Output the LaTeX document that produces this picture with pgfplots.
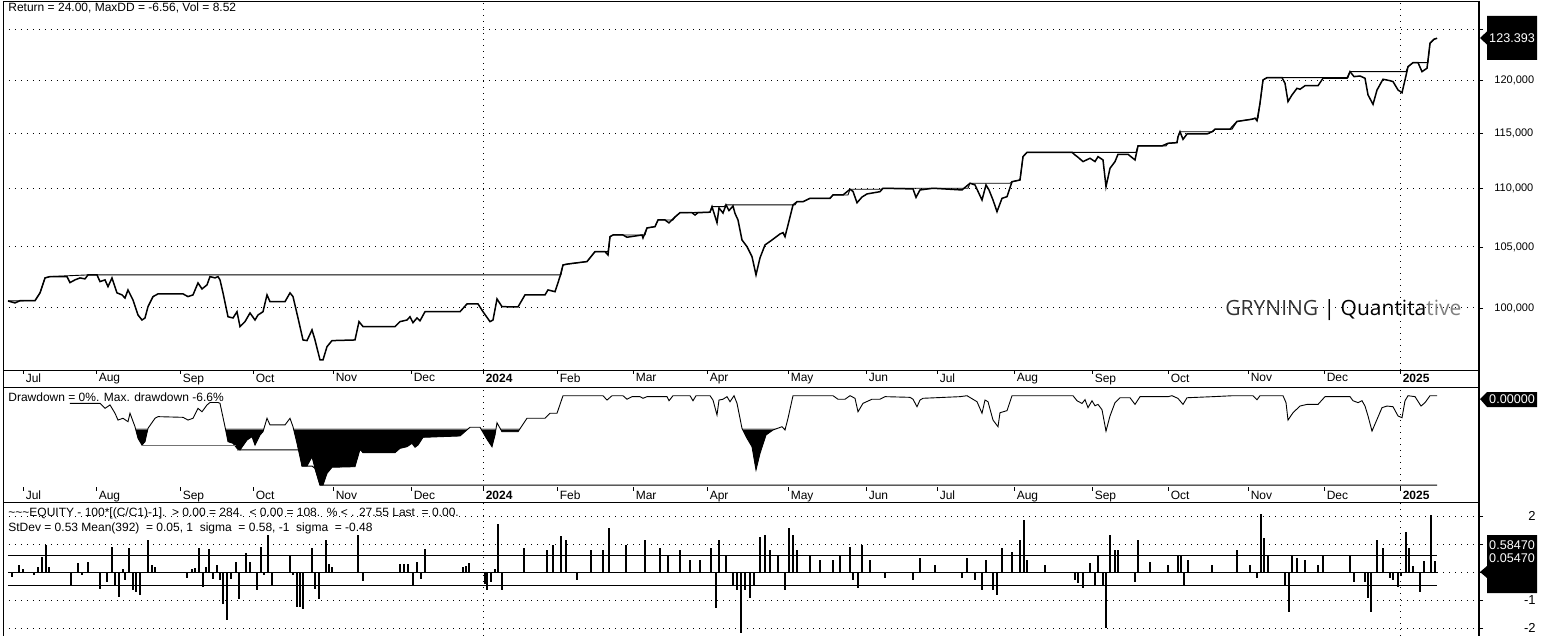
\documentclass[border=0pt]{standalone}
\usepackage{fontspec}
\setmainfont{Liberation Sans}
\newfontfamily\gryfont{Open Sans}
\usepackage{pgfplots}
\usepackage{pgfplotstable}
\pgfplotsset{compat=1.18}

\pgfplotstableread{
x y
70 -0.56
100 -0.56
105 -0.93
110 -0.68
115 -1.29
118 -1.79
123 -1.66
128 -1.91
130 -1.29
135 -2.28
138 -3.13
142 -3.63
145 -3.38
148 -2.40
155 -1.66
158 -1.54
183 -1.59
188 -1.79
193 -1.66
198 -0.93
202 -1.18
207 -0.68
210 -0.50
218 -0.50
220 -0.56
225 -2.28
228 -3.38
233 -3.50
237 -3.87
240 -3.99
247 -3.26
252 -3.01
255 -3.63
260 -2.89
263 -2.65
267 -1.66
270 -2.15
285 -2.15
290 -1.66
293 -2.28
297 -3.50
302 -5.17
307 -5.17
312 -4.49
315 -5.34
320 -6.57
323 -6.57
327 -5.71
332 -5.26
355 -5.22
360 -3.94
363 -4.19
395 -4.19
400 -3.87
407 -3.75
412 -3.50
415 -3.79
418 -3.63
423 -3.06
460 -2.96
470 -2.32
480 -2.32
487 -3.2
492 -3.75
495 -2.89
497 -1.99
502 -2.65
518 -2.65
527 -1.66
545 -1.66
550 -1.29
557 -1.29
563 0
603 0
607 -0.32
612 0
623 0
627 -0.26
632 -0.07
640 -0.07
643 -0.19
647 -0.07
667 -0.07
669 -0.37
673 0
690 0
693 -0.37
696 0
710 0
713 -0.32
717 -1.42
719 -0.32
723 -0.26
727 -0.07
730 -0.44
734 0
737 -0.56
742 -2.40
747 -3.13
752 -3.75
756 -5.46
760 -4.24
766 -2.89
773 -2.52
782 -2.28
785 -2.52
788 -1.66
793 0
833 0
838 -0.26
845 -0.26
850 0
855 -0.19
858 -1.18
863 -0.56
872 -0.26
880 -0.26
885 -0.07
910 -0.12
913 -0.26
917 -0.81
920 -0.32
923 -0.19
960 -0.07
967 0
977 -0.44
982 -1.29
985 -0.32
988 -0.44
993 -1.79
998 -2.28
1000 -1.25
1007 -1.10
1012 0
1073 0
1077 -0.37
1082 -0.57
1085 -0.29
1088 -0.88
1092 -0.37
1095 -0.74
1098 -0.64
1102 -1.03
1106 -2.60
1110 -1.49
1115 -0.51
1120 -0.15
1130 -0.15
1135 -0.64
1140 -0.07
1168 -0.07
1172 0
1178 -0.20
1183 -0.64
1187 -0.15
1213 -0.07
1233 0
1253 0
1257 -0.29
1260 0
1283 0
1286 -0.51
1288 -1.79
1293 -1.25
1300 -0.76
1307 -0.64
1318 -0.64
1325 -0.07
1350 -0.07
1353 -0.37
1358 -0.51
1362 -0.37
1365 -0.76
1368 -1.49
1372 -2.60
1377 -1.74
1382 -0.88
1387 -0.76
1393 -0.81
1398 -1.49
1402 -1.62
1405 -0.37
1408 0
1415 -0.07
1421 -0.76
1425 -0.51
1430 0
1437 0
}\ddtable

\pgfplotsset{
  panel/.style={
    scale only axis, width=738pt, xmin=3, xmax=1479,
    axis line style={draw=none},
    tick style={black, line width=0.4pt},
    tick align=outside, major tick length=2pt,
    every tick label/.append style={font=\fontsize{5.5}{6}\selectfont, inner sep=0pt},
    grid style={black, line width=0.5pt, dash pattern=on 0.5pt off 2.5pt},
    yminorticks=false, xminorticks=false,
  },
  months/.style={
    xtick={23,96,180,253,333,411,483,557,633,707,788,866,937,1014,1092,1168,1248,1324,1400},
    xticklabels={Jul,Aug,Sep,Oct,Nov,Dec,\textbf{2024},Feb,Mar,Apr,May,Jun,Jul,Aug,Sep,Oct,Nov,Dec,\textbf{2025}},
    xtick pos=bottom,
    xticklabel style={anchor=north west, xshift=1.2pt, yshift=0.3pt, font=\fontsize{6}{7}\selectfont},
  },
  yeargrid/.style={
    extra x ticks={483,1400}, extra x tick labels={},
    extra x tick style={grid=major, major tick length=0pt},
  },
  % overlay axes that clip the drawdown area below a level (area shading)
  ddfill/.style={
    scale only axis, width=738pt, xmin=3, xmax=1479, ymin=-6.713,
    hide axis, at={(1.5pt,-243.5pt)}, anchor=south west,
  },
}

\begin{document}
\begin{tikzpicture}

% ---------------- top panel: equity (log scale) ----------------
\begin{axis}[panel, months, yeargrid,
  at={(1.5pt,-1pt)}, anchor=north west, height=184pt,
  ymode=log, ymin=95.16, ymax=127.74,
  ytick={100,105,110,115,120,125},
  yticklabels={{100,000},{105,000},{110,000},{115,000},{120,000},{}},
  ytick pos=right, yticklabel pos=right,
  yticklabel style={anchor=west, xshift=5.5pt},
  ymajorgrids,
]
% running maximum
\addplot[black, line width=0.45pt] coordinates {
(8,100.56) (35,100.58) (40,101.21) (45,102.43) (50,102.54) (88,102.68) (561,102.68) (563,103.50) (568,103.58) (587,103.78) (595,104.61) (608,104.61) (610,105.87) (613,106.01) (645,106.01) (647,106.61) (655,106.72) (658,107.29) (673,107.29) (675,107.55) (680,107.92) (710,107.96) (712,108.44) (724,108.44) (726,108.59) (795,108.59) (797,108.87) (803,108.87) (810,109.17) (830,109.17) (833,109.46) (848,109.46) (850,109.96) (881,109.96) (883,110.05) (968,110.05) (970,110.49) (1010,110.49) (1012,110.63) (1020,110.78) (1023,112.87) (1027,113.26) (1136,113.26) (1138,113.84) (1166,113.84) (1168,114.08) (1177,114.14) (1178,114.68) (1180,115.14) (1213,115.14) (1215,115.37) (1232,115.37) (1237,116.09) (1252,116.30) (1255,116.39) (1258,116.39) (1260,117.79) (1263,120.01) (1267,120.23) (1348,120.23) (1350,120.81) (1406,120.81) (1408,121.29) (1413,121.68) (1428,121.68) (1430,123.59) (1434,123.98) (1437,124.08)
};
% equity
\addplot[black, line width=0.75pt] coordinates {
(8,100.56) (15,100.40) (20,100.58) (35,100.58) (40,101.21) (45,102.43) (50,102.54) (67,102.54) (70,102.05) (75,102.27) (80,102.43) (85,102.35) (88,102.68) (97,102.68) (100,102.13) (105,102.27) (108,101.72) (112,102.43) (117,101.21) (122,101.05) (125,100.80) (128,101.45) (133,100.64) (138,99.44) (142,99.04) (145,99.20) (148,100.10) (153,100.91) (158,101.13) (183,101.13) (188,100.91) (193,101.05) (198,102.02) (202,101.53) (207,101.86) (210,102.54) (215,102.43) (218,102.54) (220,102.27) (223,101.21) (228,99.30) (233,99.20) (237,99.70) (240,98.52) (245,98.91) (250,99.60) (255,99.04) (258,99.44) (263,99.70) (267,101.05) (270,100.50) (285,100.50) (290,101.21) (293,100.91) (298,99.20) (303,97.47) (307,97.42) (312,98.26) (315,97.47) (320,95.93) (323,95.93) (327,96.95) (332,97.42) (355,97.47) (359,98.91) (363,98.52) (395,98.52) (400,98.91) (407,99.04) (410,99.30) (413,98.83) (417,99.20) (420,98.98) (425,99.70) (460,99.70) (467,100.32) (478,100.32) (483,99.70) (490,98.91) (493,99.04) (497,100.72) (502,100.10) (518,100.08) (525,101.05) (545,101.05) (548,101.45) (555,101.31) (560,102.54) (563,103.50) (568,103.58) (587,103.78) (595,104.61) (605,104.61) (608,104.33) (610,105.87) (613,106.01) (623,106.01) (627,105.82) (642,106.01) (643,105.76) (647,106.61) (655,106.72) (658,107.29) (665,107.29) (669,107.04) (675,107.55) (680,107.92) (692,107.92) (695,107.72) (698,107.92) (710,107.96) (712,108.44) (713,108.16) (717,107.06) (719,108.33) (723,107.89) (726,108.59) (729,108.10) (733,108.50) (735,107.86) (738,107.29) (742,105.59) (747,105.03) (752,104.19) (756,102.68) (760,104.09) (765,105.17) (772,105.59) (780,106.10) (783,106.21) (785,105.87) (788,106.87) (793,108.59) (797,108.87) (803,108.87) (810,109.17) (830,109.17) (833,109.46) (843,109.46) (850,109.96) (853,109.77) (857,108.78) (862,109.28) (867,109.55) (880,109.75) (883,110.05) (913,109.99) (916,109.25) (920,109.90) (933,110.05) (962,109.90) (970,110.49) (975,110.34) (982,109.02) (986,110.34) (989,109.90) (993,109.02) (997,108.01) (1002,109.17) (1007,109.31) (1012,110.63) (1020,110.78) (1023,112.87) (1027,113.26) (1072,113.26) (1075,113.02) (1078,112.81) (1083,112.42) (1090,112.72) (1095,112.42) (1098,112.87) (1103,112.57) (1106,110.19) (1110,111.82) (1115,112.42) (1118,113.08) (1128,113.08) (1135,112.57) (1138,113.84) (1162,113.84) (1168,114.08) (1177,114.14) (1178,114.68) (1180,115.14) (1183,114.44) (1187,114.93) (1207,114.93) (1212,115.14) (1215,115.37) (1230,115.37) (1237,116.09) (1252,116.30) (1255,116.39) (1257,116.16) (1260,117.79) (1263,120.01) (1267,120.23) (1282,120.23) (1285,119.69) (1288,117.95) (1292,118.58) (1297,119.21) (1300,119.12) (1305,119.46) (1318,119.46) (1323,120.17) (1347,120.17) (1350,120.81) (1354,120.33) (1360,120.39) (1365,120.17) (1368,118.58) (1373,117.69) (1377,119.05) (1383,120.08) (1390,119.94) (1393,119.85) (1398,119.05) (1402,118.79) (1405,120.01) (1408,121.29) (1413,121.68) (1418,121.68) (1422,120.81) (1427,121.14) (1430,123.59) (1434,123.98) (1437,124.08)
};
\end{axis}

% ---------------- drawdown area shading (below about -2.4 %) ----------------
\begin{axis}[ddfill, ymax=-2.38, height=29.47pt]
\addplot[fill=black!22, draw=none] table {\ddtable} -- (axis cs:1437,1) -- (axis cs:70,1) -- cycle;
\end{axis}
\begin{axis}[ddfill, ymax=-2.46, height=28.93pt]
\addplot[fill=black!60, draw=none] table {\ddtable} -- (axis cs:1437,1) -- (axis cs:70,1) -- cycle;
\end{axis}
\begin{axis}[ddfill, ymax=-2.54, height=28.38pt]
\addplot[fill=black, draw=none] table {\ddtable} -- (axis cs:1437,1) -- (axis cs:70,1) -- cycle;
\end{axis}

% ---------------- middle panel: drawdown ----------------
\begin{axis}[panel, months, yeargrid,
  at={(1.5pt,-193.5pt)}, anchor=north west, height=50pt,
  ymin=-6.713, ymax=0.64, ytick=\empty,
]
\addplot[black, line width=0.45pt] table {\ddtable};
% running maximum drawdown
\addplot[black!55, line width=0.5pt] coordinates {(142,-3.63) (236,-3.63)};
\addplot[black, line width=0.5pt] coordinates {(237,-3.99) (300,-3.99) (302,-5.17) (307,-5.17) (312,-5.17) (315,-5.34) (320,-6.57) (1437,-6.57)};
\end{axis}

% ---------------- bottom panel: daily returns ----------------
\begin{axis}[panel, yeargrid,
  at={(1.5pt,-251pt)}, anchor=north west, height=67pt,
  ymin=-2.286, ymax=2.5, xtick=\empty,
  ytick={-2,-1,0,1,2}, yticklabels={-2,-1,{},{},2},
  ytick pos=right, yticklabel pos=right,
  yticklabel style={anchor=east, xshift=26.5pt, font=\fontsize{6.5}{7}\selectfont},
  ymajorgrids,
]
\addplot[black, line width=0.5pt] coordinates {(8,0) (1437,0)};
\addplot[black, line width=0.5pt] coordinates {(8,0.58) (1437,0.58)};
\addplot[black, line width=0.5pt] coordinates {(8,-0.48) (1437,-0.48)};
\addplot[ycomb, black, line width=0.9pt] coordinates {
(12,-0.18) (19,0.26) (23,0.1) (34,-0.1) (38,0.18) (42,0.54) (46,0.95) (49,0.18) (71,-0.48) (78,0.32) (82,-0.1) (88,0.36) (100,-0.6) (107,-0.36) (112,0.9) (115,-0.48) (119,-0.9) (123,0.1) (125,-0.3) (129,0.86) (133,-0.66) (136,-0.71) (140,-0.83) (148,1.13) (152,0.24) (155,0.18) (187,-0.2) (192,0.1) (195,0.14) (199,0.86) (203,-0.54) (206,0.18) (209,0.83) (213,-0.24) (217,0.24) (220,-0.3) (223,-1.13) (227,-1.73) (231,-0.24) (236,0.36) (239,-0.95) (246,0.69) (250,0.36) (257,-0.66) (261,0.9) (264,-0.12) (268,1.33) (272,-0.48) (290,0.62) (293,-0.12) (297,-1.25) (300,-1.25) (303,-1.31) (312,0.86) (315,-0.6) (319,-0.95) (326,1.13) (329,0.3) (332,0.18) (358,1.33) (363,-0.33) (400,0.3) (404,0.3) (408,0.3) (413,-0.48) (417,0.36) (421,-0.24) (425,0.83) (463,0.18) (466,0.2) (469,0.33) (485,-0.42) (487,-0.66) (491,-0.36) (495,0.12) (498,1.73) (502,-0.63) (524,0.86) (547,0.79) (553,0.96) (561,1.29) (566,1.14) (577,-0.29) (591,0.79) (603,0.79) (609,1.57) (626,0.96) (645,1.14) (660,0.86) (668,0.61) (680,0.79) (690,0.43) (700,0.43) (711,0.86) (716,-1.29) (719,1.14) (726,0.61) (733,-0.46) (737,-0.64) (741,-2.18) (745,-0.64) (750,-0.93) (754,-0.46) (760,1.25) (765,1.32) (770,0.79) (778,0.57) (785,-0.64) (789,1.57) (793,1.32) (797,0.79) (810,0.61) (820,0.43) (833,0.43) (840,0.61) (850,0.89) (853,-0.29) (858,-0.57) (862,0.96) (870,0.43) (885,-0.21) (913,-0.29) (920,0.5) (935,0.25) (962,-0.21) (967,0.5) (975,-0.29) (982,-0.64) (986,0.43) (993,-0.64) (997,-0.82) (1002,0.86) (1012,0.71) (1020,1.14) (1024,1.86) (1027,0.43) (1045,0.25) (1075,-0.29) (1078,-0.39) (1083,-0.57) (1090,0.32) (1095,-0.5) (1098,0.57) (1103,-0.46) (1106,-2.0) (1110,1.32) (1115,0.79) (1118,0.79) (1135,-0.36) (1138,1.14) (1150,0.36) (1168,0.25) (1178,0.61) (1181,0.61) (1184,-0.46) (1188,0.43) (1212,0.25) (1237,0.79) (1250,0.25) (1257,-0.21) (1261,2.07) (1264,1.21) (1268,0.61) (1285,-0.46) (1289,-1.43) (1292,0.57) (1297,0.5) (1305,0.43) (1318,0.25) (1323,0.61) (1350,0.61) (1354,-0.36) (1365,-0.36) (1368,-0.93) (1371,-1.43) (1377,1.14) (1383,0.86) (1390,-0.21) (1393,-0.29) (1398,-0.52) (1401,-0.15) (1406,1.44) (1409,0.86) (1413,0.2) (1420,-0.7) (1424,0.4) (1431,2.04) (1435,0.4)
};
\end{axis}

% ---------------- frames ----------------
\draw[line width=0.5pt] (1.5pt,-1pt) -- (1.5pt,-318pt);
\draw[line width=0.5pt] (1.5pt,-1pt) -- (739.5pt,-1pt);
\draw[line width=0.5pt] (1.5pt,-185pt) -- (739.5pt,-185pt);
\draw[line width=0.5pt] (1.5pt,-193.5pt) -- (739.5pt,-193.5pt);
\draw[line width=0.5pt] (1.5pt,-251pt) -- (739.5pt,-251pt);
\draw[line width=1.4pt] (739.5pt,-0.5pt) -- (739.5pt,-318pt);

% ---------------- texts ----------------
\node[anchor=base west, inner sep=0pt, font=\fontsize{6}{7}\selectfont] at (4pt,-6pt) {Return = 24.00, MaxDD = -6.56, Vol = 8.52};
\node[anchor=base west, inner sep=0pt, font=\fontsize{6}{7}\selectfont] at (4pt,-200.8pt) {Drawdown = 0\%. Max. drawdown -6.6\%};
\node[anchor=base west, inner sep=0pt, font=\fontsize{6}{7}\selectfont] at (4pt,-258.3pt) {\textasciitilde\textasciitilde\textasciitilde EQUITY - 100*[(C/C1)-1].\ \ > 0.00 = 284.\ \ < 0.00 = 108.\ \ \% < . 27.55 Last\ \ = 0.00.};
\node[anchor=base west, inner sep=0pt, font=\fontsize{6}{7}\selectfont] at (4pt,-265.8pt) {StDev = 0.53 Mean(392)\ \ = 0.05, 1\ \ sigma\ \ = 0.58, -1\ \ sigma\ \ = -0.48};
\node[anchor=base west, inner sep=0pt, font=\gryfont\fontsize{10.5}{12}\selectfont] at (612.5pt,-157.5pt) {\textcolor{black!80}{GRYNING} | Quantita\textcolor{black!50}{tive}};

% ---------------- value boxes ----------------
\fill (740pt,-19pt) -- (743.5pt,-15.7pt) -- (743.5pt,-8pt) -- (768.5pt,-8pt) -- (768.5pt,-30pt) -- (743.5pt,-30pt) -- (743.5pt,-22.3pt) -- cycle;
\node[white, inner sep=0pt, font=\fontsize{6.3}{7}\selectfont] at (756pt,-19pt) {123.393};
\fill (740pt,-199.5pt) -- (743.5pt,-196pt) -- (768.5pt,-196pt) -- (768.5pt,-203.5pt) -- (743.5pt,-203.5pt) -- cycle;
\node[white, inner sep=0pt, font=\fontsize{6.3}{7}\selectfont] at (756pt,-199.7pt) {0.00000};
\fill (740pt,-286pt) -- (743.5pt,-283pt) -- (743.5pt,-267.5pt) -- (768.5pt,-267.5pt) -- (768.5pt,-296.5pt) -- (743.5pt,-296.5pt) -- (743.5pt,-289pt) -- cycle;
\node[white, inner sep=0pt, font=\fontsize{6.3}{7}\selectfont] at (756pt,-272.5pt) {0.58470};
\node[white, inner sep=0pt, font=\fontsize{6.3}{7}\selectfont] at (756pt,-279pt) {0.05470};

\pgfresetboundingbox
\path[use as bounding box] (0pt,0pt) rectangle (771pt,-318pt);
\end{tikzpicture}
\end{document}
